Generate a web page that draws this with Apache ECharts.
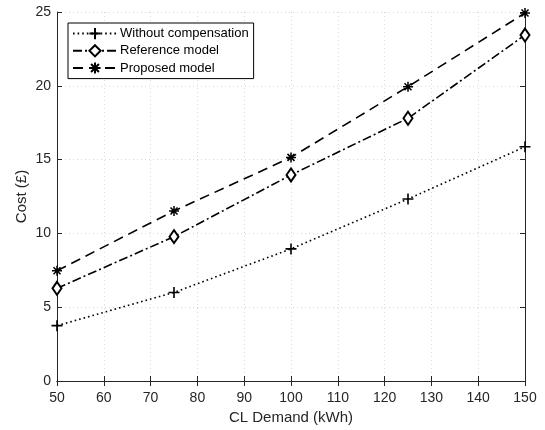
<!DOCTYPE html>
<html>
<head>
<meta charset="utf-8">
<script src="https://cdn.jsdelivr.net/npm/echarts@6/dist/echarts.min.js"></script>
<style>html,body{margin:0;padding:0;background:#fff}#c{width:545px;height:430px}</style>
</head>
<body>
<div id="c"></div>
<script>
const demand = [50, 75, 100, 125, 150];
const withoutComp = [3.75, 6.0, 8.95, 12.33, 15.87];
const referenceModel = [6.28, 9.78, 13.96, 17.8, 23.44];
const proposedModel = [7.47, 11.52, 15.15, 19.94, 24.93];
const seriesNames = ['Without compensation', 'Reference model', 'Proposed model'];

const axisColor = '#262626';
const font = 'Liberation Sans, Arial, Helvetica, sans-serif';
const pairs = arr => demand.map((d, i) => [d, arr[i]]);

const chart = echarts.init(document.getElementById('c'), null, {renderer: 'canvas'});
const hiddenAxis = {
  axisLabel: {show: false}, splitLine: {show: false},
  axisLine: {lineStyle: {color: axisColor, width: 1}},
  axisTick: {inside: true, length: 5, lineStyle: {color: axisColor}}
};
chart.setOption({
  animation: false,
  textStyle: {fontFamily: font},
  grid: {left: 57, right: 20, top: 12, bottom: 49},
  legend: {
    orient: 'vertical', left: 68, top: 23,
    data: seriesNames,
    borderColor: '#000', borderWidth: 1, backgroundColor: '#fff',
    padding: [4, 5, 4, 4], itemGap: 4, itemWidth: 44, itemHeight: 14,
    textStyle: {fontSize: 13, color: '#000', fontFamily: font, padding: [0, 0, 0, -2]}
  },
  xAxis: [{
    type: 'value', min: 50, max: 150, interval: 10,
    name: 'CL Demand (kWh)', nameLocation: 'middle', nameGap: 29,
    nameTextStyle: {fontSize: 15, color: axisColor},
    axisLabel: {fontSize: 14, color: axisColor, margin: 10},
    axisLine: {lineStyle: {color: axisColor, width: 1}},
    axisTick: {inside: true, length: 5, lineStyle: {color: axisColor}},
    splitLine: {show: true, lineStyle: {color: '#d9d9d9', type: [1, 3], width: 1}}
  }, Object.assign({type: 'value', position: 'top', min: 50, max: 150, interval: 10}, hiddenAxis)],
  yAxis: [{
    type: 'value', min: 0, max: 25, interval: 5,
    name: 'Cost (£)', nameLocation: 'middle', nameGap: 28, nameMoveOverlap: false,
    nameTextStyle: {fontSize: 15, color: axisColor},
    axisLabel: {fontSize: 14, color: axisColor, margin: 6},
    axisLine: {lineStyle: {color: axisColor, width: 1}},
    axisTick: {inside: true, length: 5, lineStyle: {color: axisColor}},
    splitLine: {show: true, lineStyle: {color: '#d9d9d9', type: [1, 3], width: 1}}
  }, Object.assign({type: 'value', position: 'right', min: 0, max: 25, interval: 5}, hiddenAxis)],
  series: [
    {
      name: seriesNames[0], type: 'line', data: pairs(withoutComp),
      symbol: 'path://M0,5L10,5M5,0L5,10', symbolSize: 11,
      itemStyle: {color: '#000', borderColor: '#000', borderWidth: 1.6},
      lineStyle: {color: '#000', width: 1.6, type: [1.6, 3]}
    },
    {
      name: seriesNames[1], type: 'line', data: pairs(referenceModel),
      symbol: 'emptyDiamond', symbolSize: [9, 13],
      itemStyle: {color: '#000', borderColor: '#000', borderWidth: 1.5},
      lineStyle: {color: '#000', width: 1.6, type: [9, 3, 2, 3]}
    },
    {
      name: seriesNames[2], type: 'line', data: pairs(proposedModel),
      symbol: 'path://M0,5L10,5M5,0L5,10M1.5,1.5L8.5,8.5M8.5,1.5L1.5,8.5', symbolSize: 10,
      itemStyle: {color: '#000', borderColor: '#000', borderWidth: 1.5},
      lineStyle: {color: '#000', width: 1.6, type: [10, 6]}
    }
  ]
});
</script>
</body>
</html>
